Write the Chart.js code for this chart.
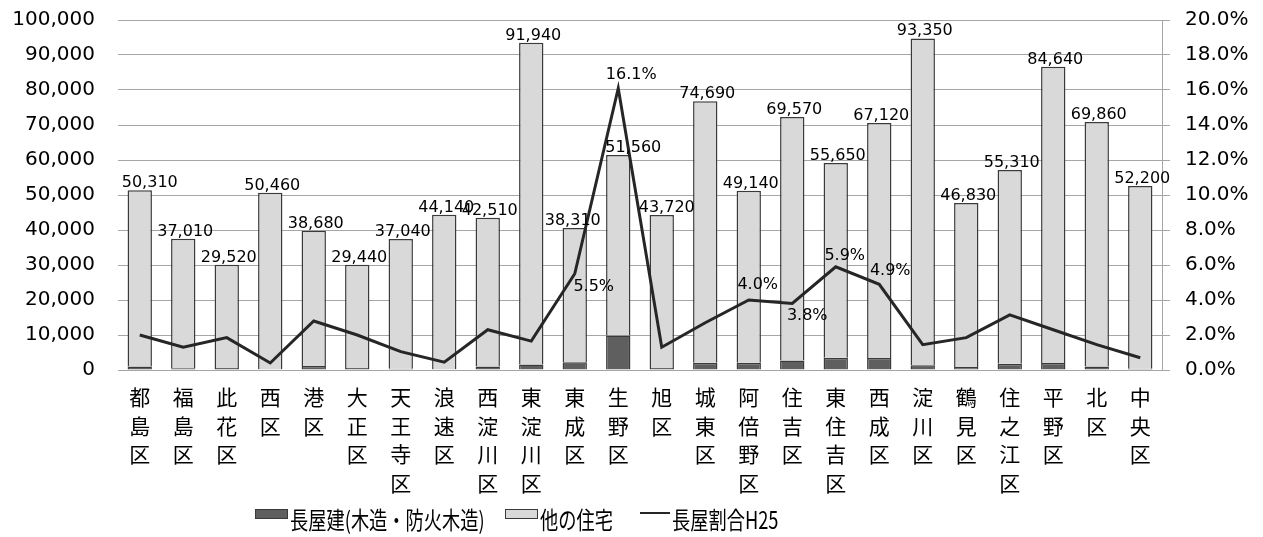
<!DOCTYPE html>
<html lang="ja">
<head>
<meta charset="utf-8">
<title>長屋建の割合</title>
<script src="https://cdn.jsdelivr.net/npm/chart.js@4.4.1/dist/chart.umd.min.js"></script>
<style>
  html, body { margin: 0; padding: 0; background: #fff; }
  #wrap { position: relative; width: 1263px; height: 537px; }
  #legend { position: absolute; left: 0; top: 0; width: 1263px; height: 537px; pointer-events: none; }
  #legend .key { position: absolute; top: 509px; width: 31px; height: 8px; border: 1px solid #3a3a3a; }
  #legend .key.dark { left: 255px; background: #5f5f5f; }
  #legend .key.light { left: 505px; background: #d9d9d9; }
  #legend .key.line { left: 640px; top: 512px; width: 30px; height: 2px; border: 0; background: #262626; }
  #legend .txt {
    position: absolute; top: 501px; line-height: 24px; white-space: nowrap;
    font: 24px "Noto Sans CJK JP", sans-serif; color: #000;
    transform: scaleX(0.76); transform-origin: left center;
  }
</style>
</head>
<body>
<div id="wrap">
  <canvas id="nagayaChart" width="1263" height="537"></canvas>
  <div id="legend">
    <i class="key dark"></i><span class="txt" style="left:290px">長屋建(木造・防火木造)</span>
    <i class="key light"></i><span class="txt" style="left:540px">他の住宅</span>
    <i class="key line"></i><span class="txt" style="left:672px">長屋割合H25</span>
  </div>
</div>
<script>
// 区名（縦書きにするため1文字ずつ）
const wards = ['都島区', '福島区', '此花区', '西区', '港区', '大正区', '天王寺区', '浪速区',
  '西淀川区', '東淀川区', '東成区', '生野区', '旭区', '城東区', '阿倍野区', '住吉区',
  '東住吉区', '西成区', '淀川区', '鶴見区', '住之江区', '平野区', '北区', '中央区'];

// 長屋建（木造・防火木造）の戸数
const nagaya = [1030, 490, 560, 200, 1110, 600, 390, 200, 1000, 1540, 2230, 9890,
  580, 2070, 2050, 2750, 3490, 3460, 1370, 880, 1800, 1990, 1030, 370];

// 他の住宅の戸数
const otherHousing = [50310, 37010, 29520, 50460, 38680, 29440, 37040, 44140, 42510, 91940, 38310, 51560,
  43720, 74690, 49140, 69570, 55650, 67120, 93350, 46830, 55310, 84640, 69860, 52200];

// 長屋割合 H25 (%)
const nagayaRatio = [2.0, 1.3, 1.85, 0.4, 2.8, 2.0, 1.05, 0.45, 2.3, 1.65, 5.5, 16.1,
  1.3, 2.7, 4.0, 3.8, 5.9, 4.9, 1.45, 1.85, 3.15, 2.3, 1.45, 0.7];

// 割合ラベルを出す区と、点からのずらし量 [dx, dy]
const ratioLabelShift = { 10: [19, 13], 11: [13, -13], 14: [9, -15], 15: [15, 12], 16: [9, -11], 17: [11, -13] };
// 戸数ラベルの横ずらし（指定なしは 2px）
const barLabelShift = { 0: 10, 10: -2, 11: 15, 12: 5 };

const gridGray = '#a6a6a6';
const numFont = { family: '"DejaVu Sans"', size: 20 };

// 縦軸の幅を固定し、目盛ラベル分の上下余白は取らない
const fixWidth = w => s => {
  s.width = w;
  s.paddingTop = 0;
  s.paddingBottom = 0;
};

// 棒の上の戸数と、一部の点の割合を描く
const valueLabels = {
  id: 'valueLabels',
  afterDatasetsDraw(chart) {
    const ctx = chart.ctx;
    ctx.save();
    ctx.font = '16px "DejaVu Sans"';
    ctx.fillStyle = '#000';
    ctx.textAlign = 'center';
    ctx.textBaseline = 'alphabetic';
    chart.getDatasetMeta(2).data.forEach((bar, i) => {
      const dx = barLabelShift[i] !== undefined ? barLabelShift[i] : 2;
      ctx.fillText(otherHousing[i].toLocaleString('en-US'), bar.x + dx, bar.y - 3);
    });
    ctx.textBaseline = 'middle';
    const pts = chart.getDatasetMeta(0).data;
    Object.keys(ratioLabelShift).forEach(k => {
      const [dx, dy] = ratioLabelShift[k];
      ctx.fillText(nagayaRatio[k].toFixed(1) + '%', pts[k].x + dx, pts[k].y + dy);
    });
    ctx.restore();
  }
};

new Chart(document.getElementById('nagayaChart'), {
  type: 'bar',
  data: {
    labels: wards.map(w => w.split('')),
    datasets: [
      {
        type: 'line',
        label: '長屋割合H25',
        data: nagayaRatio,
        yAxisID: 'y1',
        borderColor: '#262626',
        borderWidth: 3,
        pointRadius: 0,
        tension: 0,
        order: 0
      },
      {
        label: '長屋建(木造・防火木造)',
        data: nagaya,
        backgroundColor: '#5f5f5f',
        borderColor: '#3a3a3a',
        borderWidth: 1.5,
        order: 1
      },
      {
        label: '他の住宅',
        data: otherHousing,
        backgroundColor: '#d9d9d9',
        borderColor: '#3a3a3a',
        borderWidth: 1.5,
        order: 1
      }
    ]
  },
  options: {
    responsive: false,
    animation: false,
    datasets: { bar: { categoryPercentage: 1, barPercentage: 0.56 } },
    layout: { padding: { top: 20, left: 0, right: 0, bottom: 0 } },
    plugins: { legend: { display: false }, tooltip: { enabled: false } },
    scales: {
      x: {
        stacked: true,
        grid: { display: false, drawTicks: false },
        border: { display: true, color: gridGray },
        ticks: {
          autoSkip: false,
          maxRotation: 0,
          padding: 13,
          color: '#000',
          font: { family: '"Noto Sans CJK JP"', size: 21, lineHeight: 1.36 }
        },
        afterFit: s => { s.height = 167; }
      },
      y: {
        stacked: true,
        position: 'left',
        min: 0,
        max: 100000,
        grid: { color: gridGray, drawTicks: false },
        border: { display: false },
        ticks: {
          stepSize: 10000,
          padding: 23,
          color: '#000',
          font: numFont,
          callback: v => v.toLocaleString('en-US')
        },
        afterFit: fixWidth(118)
      },
      y1: {
        position: 'right',
        min: 0,
        max: 20,
        grid: { drawOnChartArea: false, drawTicks: true, tickLength: 8, color: gridGray },
        border: { display: true, color: gridGray },
        ticks: {
          stepSize: 2,
          padding: 15,
          color: '#000',
          font: numFont,
          callback: v => v.toFixed(1) + '%'
        },
        afterFit: fixWidth(101)
      }
    }
  },
  plugins: [valueLabels]
});
</script>
</body>
</html>
